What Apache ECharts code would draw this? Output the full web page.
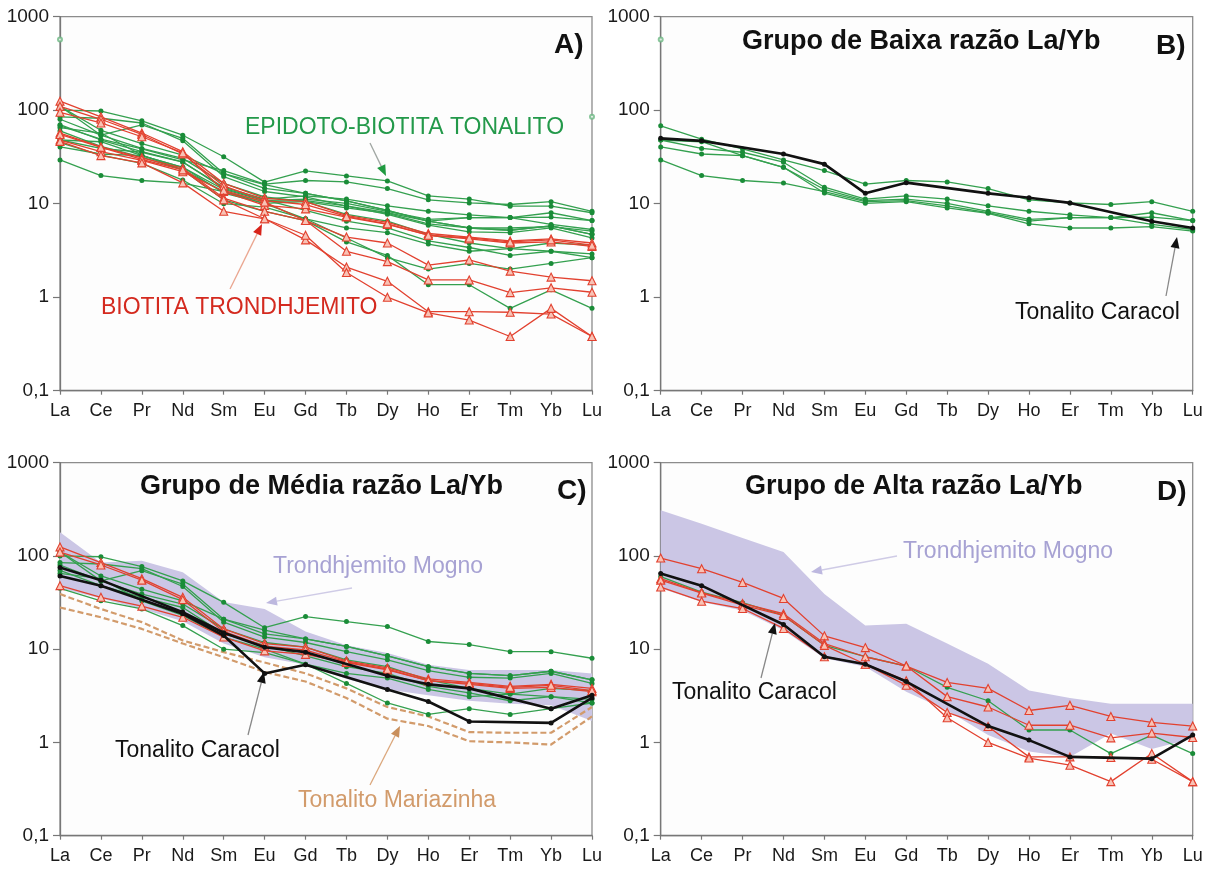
<!DOCTYPE html>
<html>
<head>
<meta charset="utf-8">
<script src="https://cdn.jsdelivr.net/npm/echarts@6/dist/echarts.min.js"></script>
<style>
  html, body { margin: 0; padding: 0; background: #ffffff; }
  #chart { width: 1214px; height: 869px; }
</style>
</head>
<body>
<div id="chart"></div>
<script>
// Rare earth elements on the x axis and the decade labels of the log axis
const ELEMENTS = ['La', 'Ce', 'Pr', 'Nd', 'Sm', 'Eu', 'Gd', 'Tb', 'Dy', 'Ho', 'Er', 'Tm', 'Yb', 'Lu'];
const Y_TICK_LABELS = ['0,1', '1', '10', '100', '1000'];

// B) Grupo de Baixa razão La/Yb
const baixaVerde1 = [68, 49, 38.5, 29.4, 22.6, 16.2, 17.7, 17.1, 14.5, 11.0, 10.2, 9.8, 10.5, 8.3];
const baixaVerde2 = [48, 39, 35.5, 27.8, 15, 11.2, 12.1, 11.2, 9.5, 8.3, 7.6, 7.1, 8.0, 6.6];
const baixaVerde3 = [40.5, 34, 32.6, 24.5, 14.2, 10.8, 11.2, 10.1, 8.3, 6.8, 7.1, 7.1, 7.2, 6.6];
const baixaVerde4 = [48, 46, 32.6, 24.5, 13.0, 10.1, 10.5, 9.0, 7.9, 6.1, 5.5, 5.5, 5.7, 5.1];
const baixaVerde5 = [29.4, 20, 17.7, 16.6, 13.5, 10.5, 10.8, 9.5, 8.0, 6.5, 7.1, 7.1, 6.0, 5.3];
const baixaCaracol = [50, 47, null, 34, 26.5, 12.9, 16.8, null, 12.9, 11.6, 10.2, null, 6.5, 5.5];

// C) Grupo de Média razão La/Yb
const mediaVerde1 = [100, 98, 77, 54, 31.8, 17, 22.4, 19.8, 17.5, 12.1, 11.2, 9.4, 9.4, 8.0];
const mediaVerde2 = [85, 82, 73, 47, 19.5, 13.5, 11.8, 9.4, 7.7, 5.9, 5.0, 4.9, 5.5, 4.3];
const mediaVerde3 = [110, 61, 44, 33, 21, 14.6, 12.9, 10.7, 8.5, 6.5, 5.5, 5.2, 5.8, 4.7];
const mediaVerde4 = [80, 54, 39, 30.5, 16.5, 11.8, 10.5, 7.7, 6.5, 4.7, 3.8, 3.3, 3.8, 3.6];
const mediaVerde5 = [70, 48, 36, 28, 14.6, 11, 8.5, 6.5, 5.5, 4.0, 3.4, 2.8, 3.1, 2.65];
const mediaVerde6 = [65, 57, 33, 23, 13.5, 10, 6.9, 5.5, 4.9, 3.7, 3.1, 3.3, 3.1, 2.9];
const mediaVerde7 = [45, 33, 27, 17.9, 10, 9.2, 6.9, 4.3, 2.65, 2.0, 2.3, 2.0, 2.3, 2.65];
const mediaVerde8 = [110, 54, 69.5, 50, 21, 16, 12.9, 10.7, 8.5, 6.5, 5.5, 5.2, 5.8, 4.7];
const mediaVermelho1 = [125, 85, 57, 36, 16.5, 11.5, 10.5, 7.5, 6.3, 4.8, 4.4, 4.0, 4.2, 3.8];
const mediaVermelho2 = [48, 36, 29, 22, 13.5, 9.6, 8.8, 7.2, 6.0, 4.6, 4.2, 3.8, 3.9, 3.5];
const mediaVermelho3 = [110, 80, 55, 34, 15.5, 10.8, 9.8, 7.3, 6.1, 4.6, 4.3, 3.9, 4.1, 3.6];
const mediaCaracol1 = [61, 48, null, 24, 14, 5.5, 6.8, null, 3.7, 2.75, 1.68, null, 1.62, 3.0];
const mediaCaracol2 = [75, 55, null, 25, 15, 10.5, 9.3, null, 5.2, 4.2, 3.8, null, 2.3, 3.2];
const mariazinhaSup = [39, 27, 19.5, 12.4, 9.3, 7.2, 5.5, 3.8, 2.4, 1.9, 1.29, 1.27, 1.27, 2.4];
const mariazinhaInf = [28, 22, 16.5, 11.5, 8.2, 5.7, 4.5, 3.0, 1.8, 1.5, 1.03, 1.0, 0.95, 1.9];
const mognoMediaSup = [180, 85, 89, 67, 32, 27, 15.5, 11, 9.1, 6.8, 6.0, 6.0, 6.0, 5.5];
const mognoMediaInf = [45, 35, 27, 20, 11.5, 8.2, 6.8, 4.8, 3.7, 3.2, 2.8, 2.6, 2.5, 1.7];

// D) Grupo de Alta razão La/Yb
const altaVerde1 = [60, 41, 31.5, 23, 11, 8.3, 6.6, 3.9, 2.8, 1.36, 1.36, 0.76, 1.2, 0.76];
const altaVermelho1 = [95, 73, 52, 35, 13.9, 10.4, 6.6, 4.4, 3.8, 2.2, 2.5, 1.9, 1.64, 1.5];
const altaVermelho2 = [57, 40.5, 31, 24, 11.5, 8.3, 6.6, 3.1, 2.4, 1.53, 1.53, 1.12, 1.26, 1.13];
const altaVermelho3 = [55, 40, 29.7, 23, 11, 6.9, 4.1, 2.1, 1.48, 0.7, 0.7, 0.69, 0.66, 0.38];
const altaVermelho4 = [46.4, 32.7, 27.3, 16.7, 8.3, 6.9, 4.6, 1.84, 1.0, 0.68, 0.57, 0.38, 0.76, 0.38];
const altaCaracol = [65, 48, null, 18.4, 8.3, 6.9, 4.5, null, 1.5, 1.06, 0.70, null, 0.67, 1.2];
const mognoAltaSup = [309, 222, 156, 110, 39, 18, 18.8, 11.5, 7, 3.6, 3.0, 2.6, 2.6, 2.6];
const mognoAltaInf = [45, 32, 26, 16, 8, 6.5, 3.5, 2.2, 1.2, 0.8, 0.7, 1.25, 0.85, 1.1];

// Isolated points drawn as small open circles
const pontosIsoladosA = [['La', 570], ['Lu', 85]];
const pontosIsoladosB = [['La', 570]];

const baixaVerdes = [baixaVerde1, baixaVerde2, baixaVerde3, baixaVerde4, baixaVerde5];
const mediaVerdes = [mediaVerde1, mediaVerde2, mediaVerde3, mediaVerde4, mediaVerde5, mediaVerde6, mediaVerde7, mediaVerde8];
const mediaVermelhos = [mediaVermelho1, mediaVermelho2, mediaVermelho3];
const altaVermelhos = [altaVermelho1, altaVermelho2, altaVermelho3, altaVermelho4];

// Panel A gathers every sample of the three groups
const todosVerdes = [...baixaVerdes, ...mediaVerdes, altaVerde1];
const todosVermelhos = [...mediaVermelhos, ...altaVermelhos];

const FONT = '"Liberation Sans", Arial, Helvetica, sans-serif';
const GREEN_LINE = '#34a04f';
const GREEN_DOT = '#1a8c38';
const RED_LINE = '#e2412f';
const RED_FILL = '#f8c2b5';
const MOGNO_FILL = '#cbc6e5';
const MOGNO_TEXT = '#a7a2d3';
const MARIAZINHA = '#d29b6b';

const GRID_BOXES = [
  { left: 60, top: 16.7, width: 532, height: 374 },
  { left: 660.7, top: 16.7, width: 532, height: 374 },
  { left: 60, top: 462.7, width: 532, height: 373 },
  { left: 660.7, top: 462.7, width: 532, height: 373 }
];

const grids = GRID_BOXES.map(b => ({
  ...b,
  show: true,
  backgroundColor: '#fdfdfd',
  borderColor: '#8c8c8c',
  borderWidth: 1.3
}));

const xAxes = GRID_BOXES.map((b, i) => ({
  type: 'category',
  gridIndex: i,
  data: ELEMENTS,
  boundaryGap: false,
  axisLine: { lineStyle: { color: '#777', width: 1.3 } },
  axisTick: { show: true, length: 4, lineStyle: { color: '#777', width: 1.2 } },
  axisLabel: { color: '#1a1a1a', fontSize: 18, fontFamily: FONT, margin: 11, interval: 0 },
  splitLine: { show: false }
}));

const yAxes = GRID_BOXES.map((b, i) => ({
  type: 'log',
  logBase: 10,
  gridIndex: i,
  min: 0.1,
  max: 1000,
  axisLine: { show: true, lineStyle: { color: '#777', width: 1.3 } },
  axisTick: { show: true, length: 7, lineStyle: { color: '#777', width: 1.2 } },
  axisLabel: {
    color: '#1a1a1a', fontSize: 19, fontFamily: FONT, margin: 11,
    padding: [0, 0, 14, 0],
    formatter: v => Y_TICK_LABELS[Math.round(Math.log10(v)) + 1]
  },
  splitLine: { show: false },
  minorTick: { show: false }
}));

function pairs(values) {
  return values.map((v, i) => [ELEMENTS[i], v]);
}

function greenLine(values, gi) {
  return {
    type: 'line', xAxisIndex: gi, yAxisIndex: gi, data: pairs(values),
    symbol: 'circle', symbolSize: 5, silent: true, z: 3,
    lineStyle: { color: GREEN_LINE, width: 1.3 },
    itemStyle: { color: GREEN_DOT }
  };
}

function redLine(values, gi) {
  return {
    type: 'line', xAxisIndex: gi, yAxisIndex: gi, data: pairs(values),
    symbol: 'triangle', symbolSize: 8, silent: true, z: 4,
    lineStyle: { color: RED_LINE, width: 1.3 },
    itemStyle: { color: RED_FILL, borderColor: RED_LINE, borderWidth: 1.1 }
  };
}

function blackLine(values, gi) {
  return {
    type: 'line', xAxisIndex: gi, yAxisIndex: gi, data: pairs(values),
    connectNulls: true, symbol: 'circle', symbolSize: 5, silent: true, z: 5,
    lineStyle: { color: '#111', width: 2.6 },
    itemStyle: { color: '#111' }
  };
}

function dashedLine(values, gi) {
  return {
    type: 'line', xAxisIndex: gi, yAxisIndex: gi, data: pairs(values),
    symbol: 'none', silent: true, z: 2,
    lineStyle: { color: MARIAZINHA, width: 2.2, type: [6, 3] }
  };
}

function looseDots(points, gi) {
  return {
    type: 'scatter', xAxisIndex: gi, yAxisIndex: gi, data: points,
    symbol: 'emptyCircle', symbolSize: 4, silent: true, z: 3,
    itemStyle: { color: '#6cb882', borderWidth: 1 }
  };
}

// Trondhjemito Mogno field: polygon between the upper and lower envelopes
function field(upper, lower, gi) {
  return {
    type: 'custom', xAxisIndex: gi, yAxisIndex: gi, silent: true, z: 1,
    data: upper.map((v, i) => [i, v]),
    encode: { x: 0, y: 1 },
    renderItem(params, api) {
      if (params.dataIndex !== 0) return null;
      const top = upper.map((v, i) => api.coord([i, v]));
      const bottom = lower.map((v, i) => api.coord([i, v])).reverse();
      return { type: 'polygon', shape: { points: top.concat(bottom) }, style: { fill: MOGNO_FILL } };
    }
  };
}

const series = [
  // A
  ...todosVerdes.map(v => greenLine(v, 0)),
  ...todosVermelhos.map(v => redLine(v, 0)),
  looseDots(pontosIsoladosA, 0),
  // B
  ...baixaVerdes.map(v => greenLine(v, 1)),
  blackLine(baixaCaracol, 1),
  looseDots(pontosIsoladosB, 1),
  // C
  field(mognoMediaSup, mognoMediaInf, 2),
  dashedLine(mariazinhaSup, 2),
  dashedLine(mariazinhaInf, 2),
  ...mediaVerdes.map(v => greenLine(v, 2)),
  ...mediaVermelhos.map(v => redLine(v, 2)),
  blackLine(mediaCaracol1, 2),
  blackLine(mediaCaracol2, 2),
  // D
  field(mognoAltaSup, mognoAltaInf, 3),
  greenLine(altaVerde1, 3),
  ...altaVermelhos.map(v => redLine(v, 3)),
  blackLine(altaCaracol, 3)
];

function label(x, y, text, size, color, weight) {
  return {
    type: 'text', x, y, silent: true, z: 100,
    style: {
      text, fill: color, fontSize: size, fontWeight: weight || 'normal',
      fontFamily: FONT, align: 'left', verticalAlign: 'middle'
    }
  };
}

function arrow(x1, y1, x2, y2, lineColor, headColor) {
  const len = Math.hypot(x2 - x1, y2 - y1);
  const ux = (x2 - x1) / len, uy = (y2 - y1) / len;
  const hl = 11, hw = 4.5;
  const bx = x2 - ux * hl, by = y2 - uy * hl;
  return [
    { type: 'line', silent: true, z: 99, shape: { x1, y1, x2: bx, y2: by }, style: { stroke: lineColor, lineWidth: 1.3 } },
    {
      type: 'polygon', silent: true, z: 99,
      shape: { points: [[x2, y2], [bx - uy * hw, by + ux * hw], [bx + uy * hw, by - ux * hw]] },
      style: { fill: headColor }
    }
  ];
}

const graphic = [
  label(554, 45, 'A)', 28, '#111', 'bold'),
  label(1156, 46, 'B)', 28, '#111', 'bold'),
  label(557, 491, 'C)', 28, '#111', 'bold'),
  label(1157, 492, 'D)', 28, '#111', 'bold'),
  label(742, 42, 'Grupo de Baixa razão La/Yb', 27, '#111', 'bold'),
  label(140, 487, 'Grupo de Média razão La/Yb', 27, '#111', 'bold'),
  label(745, 487, 'Grupo de Alta razão La/Yb', 27, '#111', 'bold'),
  label(245, 128, 'EPIDOTO-BIOTITA TONALITO', 23, '#23994a'),
  label(101, 308, 'BIOTITA TRONDHJEMITO', 23, '#d42a1f'),
  label(1015, 313, 'Tonalito Caracol', 23, '#111'),
  label(273, 567, 'Trondhjemito Mogno', 23, MOGNO_TEXT),
  label(115, 751, 'Tonalito Caracol', 23, '#111'),
  label(298, 801, 'Tonalito Mariazinha', 23, MARIAZINHA),
  label(903, 552, 'Trondhjemito Mogno', 23, MOGNO_TEXT),
  label(672, 693, 'Tonalito Caracol', 23, '#111'),
  ...arrow(370, 143, 386, 176, '#a0a6a2', '#1f9a40'),
  ...arrow(230, 289, 262, 224, '#eaa690', '#d8231a'),
  ...arrow(1166, 296, 1177, 237, '#888', '#111'),
  ...arrow(248, 735, 264, 672, '#888', '#111'),
  ...arrow(352, 588, 266, 603, '#cfcbe6', '#bdb8df'),
  ...arrow(370, 785, 400, 726, '#dba77c', '#c98f5c'),
  ...arrow(897, 556, 811, 572, '#cfcbe6', '#bdb8df'),
  ...arrow(761, 678, 775, 623, '#888', '#111')
];

const chart = echarts.init(document.getElementById('chart'), null, { renderer: 'canvas' });
chart.setOption({
  animation: false,
  backgroundColor: '#ffffff',
  grid: grids,
  xAxis: xAxes,
  yAxis: yAxes,
  series,
  graphic
});
</script>
</body>
</html>
